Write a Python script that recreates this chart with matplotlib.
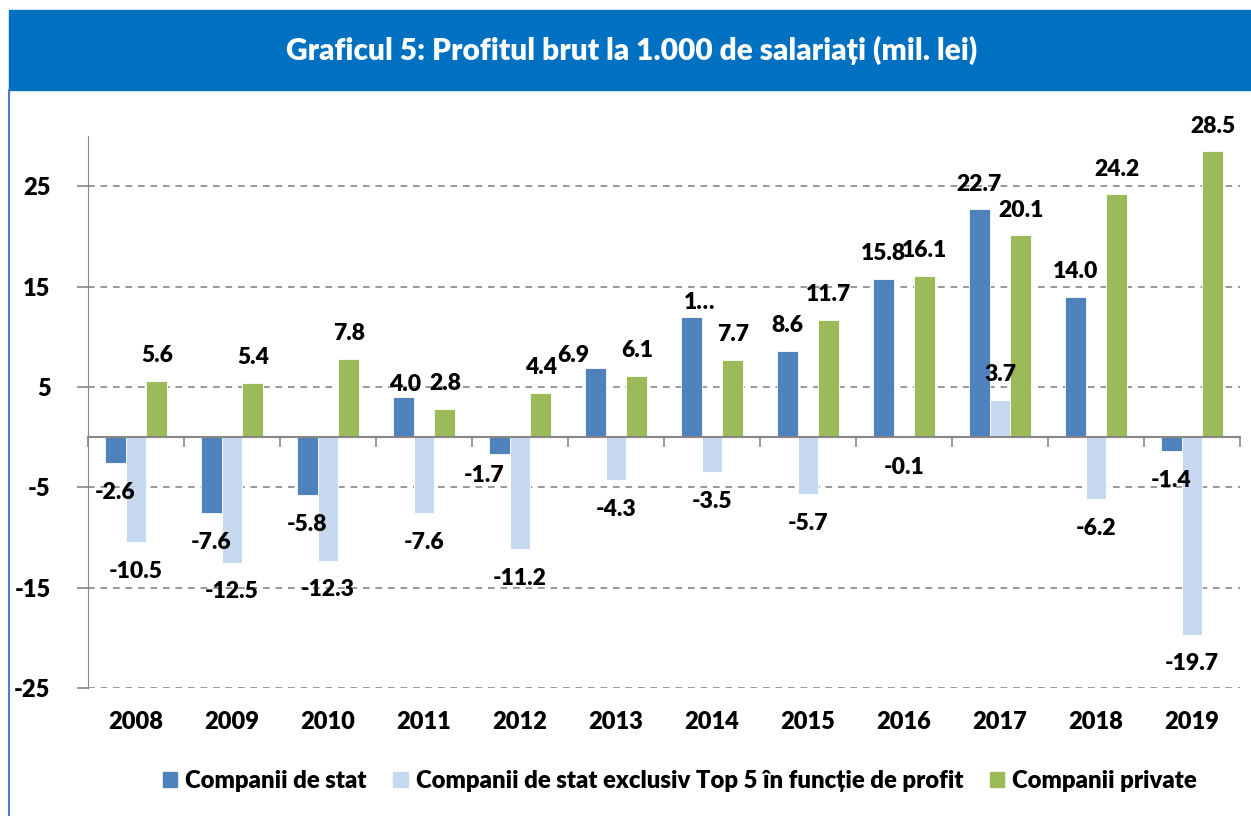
"""Graficul 5: Profitul brut la 1.000 de salariati (mil. lei) - grouped bars."""
import numpy as np
import matplotlib
matplotlib.use("Agg")
import matplotlib.pyplot as plt
from matplotlib.patches import Rectangle
from matplotlib.lines import Line2D

plt.rcParams["font.family"] = ["Lato", "DejaVu Sans"]
WEIGHT = "heavy"

YEARS = ["2008", "2009", "2010", "2011", "2012", "2013",
         "2014", "2015", "2016", "2017", "2018", "2019"]
STAT = [-2.6, -7.6, -5.8, 4.0, -1.7, 6.9, 12.0, 8.6, 15.8, 22.7, 14.0, -1.4]
STAT_EXCL_TOP5 = [-10.5, -12.5, -12.3, -7.6, -11.2, -4.3, -3.5, -5.7, -0.1, 3.7, -6.2, -19.7]
PRIVATE = [5.6, 5.4, 7.8, 2.8, 4.4, 6.1, 7.7, 11.7, 16.1, 20.1, 24.2, 28.5]

SERIES_NAMES = ["Companii de stat",
                "Companii de stat exclusiv Top 5 în funcție de profit",
                "Companii private"]
COLORS = ["#4F81BD", "#C6D9F1", "#9BBB59"]

# labels that Excel truncated / moved by hand: (series, index) -> text / (dx, dy) px
LABEL_TEXT = {(0, 6): "1…"}
LABEL_SHIFT = {(0, 3): (2, 12), (0, 4): (-15, -21), (0, 5): (-22, 12), (0, 6): (9, 14)}

GRID_C = "#868686"

fig = plt.figure(figsize=(12.51, 8.16), dpi=100)
ax = fig.add_axes([88 / 1251, 1 - 688 / 816, (1240 - 88) / 1251, (688 - 136) / 816])

x = np.arange(len(YEARS))
w = 0.218
for si, vals in enumerate([STAT, STAT_EXCL_TOP5, PRIVATE]):
    xs = x + (si - 1) * w
    ax.bar(xs, vals, width=w, color=COLORS[si], edgecolor="white", linewidth=0.6,
           zorder=3, label=SERIES_NAMES[si])
    for i, v in enumerate(vals):
        txt = LABEL_TEXT.get((si, i), f"{v:.1f}")
        dx, dy = LABEL_SHIFT.get((si, i), (0, 25 if v >= 0 else -29))
        ax.annotate(txt, (xs[i], v), xytext=(dx, dy), textcoords="offset pixels",
                    ha="center", va="center", fontsize=16.5, fontweight=WEIGHT,
                    color="black", zorder=5)

ax.set_xlim(-0.5, len(YEARS) - 0.5)
ax.set_ylim(-25, 30)
ax.set_yticks([-25, -15, -5, 5, 15, 25])
ax.set_yticklabels(["-25", "-15", "-5", "5", "15", "25"])
ax.yaxis.grid(True, linestyle=(0, (4, 3.5)), color=GRID_C, linewidth=1.2, zorder=1)

for s in ["top", "right"]:
    ax.spines[s].set_visible(False)
ax.spines["left"].set_color(GRID_C)
ax.spines["left"].set_bounds(-25, 30)
ax.spines["bottom"].set_position(("data", 0))
ax.spines["bottom"].set_color(GRID_C)
ax.spines["bottom"].set_linewidth(1.5)
ax.spines["bottom"].set_zorder(4)

ax.set_xticks(np.arange(len(YEARS) + 1) - 0.5)
ax.set_xticklabels([])
ax.tick_params(axis="x", length=7, width=1.2, color=GRID_C, direction="out")
ax.tick_params(axis="y", length=8, width=1.2, color=GRID_C, direction="out",
               pad=19, labelsize=17)
for t in ax.get_yticklabels():
    t.set_fontweight(WEIGHT)

# year labels below the plot area
for i, yr in enumerate(YEARS):
    ax.text(i, -0.062, yr, transform=ax.get_xaxis_transform(), ha="center", va="center",
            fontsize=17, fontweight=WEIGHT)

# frame: title banner + left border
fig.patches.append(Rectangle((9 / 1251, 1 - 90 / 816), 1, 80 / 816,
                             transform=fig.transFigure, color="#0070C0", zorder=0))
fig.lines.append(Line2D([9 / 1251, 9 / 1251], [0, 1 - 90 / 816],
                        transform=fig.transFigure, color="#4A7EC4", linewidth=1.5))
fig.text(632 / 1251, 1 - 50 / 816,
         "Graficul 5: Profitul brut la 1.000 de salariați (mil. lei)",
         ha="center", va="center", color="white", fontsize=21.5, fontweight=WEIGHT)

handles = [Rectangle((0, 0), 1, 1, color=c) for c in COLORS]
fig.legend(handles, SERIES_NAMES, loc="center", bbox_to_anchor=(680 / 1251, 1 - 781 / 816),
           ncol=3, frameon=False, handlelength=0.6, handleheight=0.6,
           handletextpad=0.35, columnspacing=1.1, prop={"size": 17.2, "weight": WEIGHT})

fig.savefig("out.png", dpi=100)
